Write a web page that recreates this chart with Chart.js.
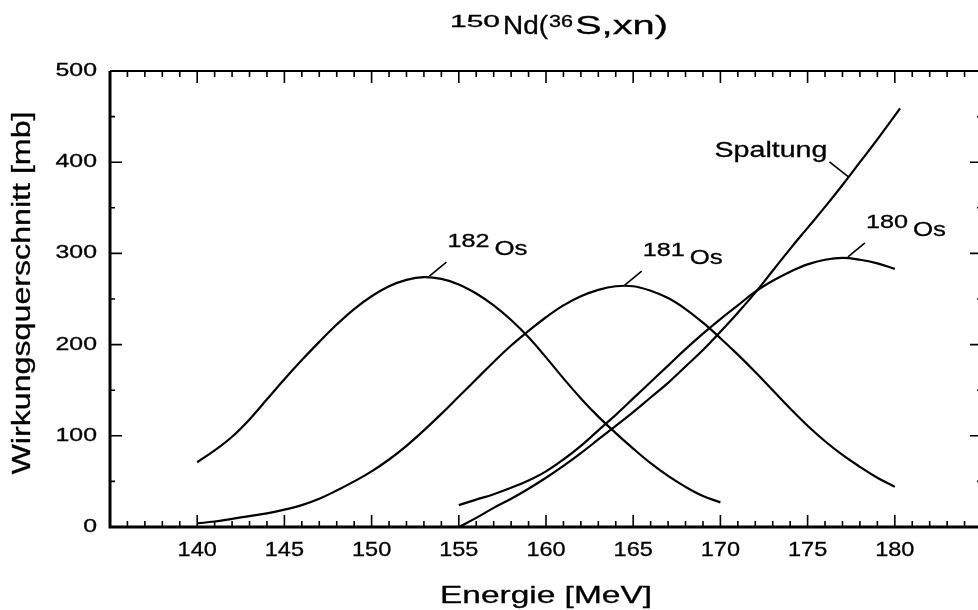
<!DOCTYPE html>
<html>
<head>
<meta charset="utf-8">
<script src="https://cdn.jsdelivr.net/npm/chart.js@4.4.1/dist/chart.umd.min.js"></script>
<style>
  html, body { margin: 0; padding: 0; background: #fff; overflow: hidden; }
  #wrap { width: 990px; height: 610px; }
</style>
</head>
<body>
<div id="wrap"><canvas id="c" width="990" height="610"></canvas></div>
<script>
// tick labels
var xTicks = [140, 145, 150, 155, 160, 165, 170, 175, 180];
var yTicks = [0, 100, 200, 300, 400, 500];

// 182Os
var e182 = [140, 141, 142, 143, 144, 145, 146, 147, 148, 149, 150, 151, 152, 153, 154, 155, 156, 157, 158, 159, 160, 161, 162, 163, 164, 165, 166, 167, 168, 169, 170];
var v182 = [71, 84, 99, 118, 140, 162, 183, 203, 222, 239, 253, 264, 271, 274, 272, 266, 256, 243, 227, 208, 186, 163, 141, 121, 103, 86, 70, 56, 44, 34, 27];

// 181Os
var e181 = [140, 141, 142, 143, 144, 145, 146, 147, 148, 149, 150, 151, 152, 153, 154, 155, 156, 157, 158, 159, 160, 161, 162, 163, 164, 165, 166, 167, 168, 169, 170, 171, 172, 173, 174, 175, 176, 177, 178, 179, 180];
var v181 = [4, 6, 9, 12, 15, 19, 24, 31, 40, 50, 61, 74, 89, 106, 124, 143, 162, 181, 199, 215, 230, 243, 253, 260, 264, 264, 259, 251, 239, 224, 207, 189, 170, 150, 130, 111, 94, 79, 66, 54, 44];

// 180Os
var e180 = [155, 156, 157, 158, 159, 160, 161, 162, 163, 164, 165, 166, 167, 168, 169, 170, 171, 172, 173, 174, 175, 176, 177, 178, 179, 180];
var v180 = [24, 30, 36, 43, 51, 61, 74, 89, 106, 123, 141, 159, 177, 195, 212, 228, 243, 258, 270, 280, 288, 293, 295, 293, 289, 283];

// Spaltung
var eSp = [155, 156, 157, 158, 159, 160, 161, 162, 163, 164, 165, 166, 167, 168, 169, 170, 171, 172, 173, 174, 175, 176, 177, 178, 179, 180, 180.3];
var vSp = [0, 10, 21, 31, 42, 54, 67, 81, 96, 111, 126, 142, 158, 176, 194, 214, 235, 257, 281, 305, 328, 351, 375, 400, 425, 451, 459];

// curve labels, anchored on the curves (data units)
var curveLabels = [
    { mass: "182", name: "Os", e: 153.2, v: 274 },
    { mass: "181", name: "Os", e: 164.4, v: 264 },
    { mass: "180", name: "Os", e: 177.2, v: 295 }
];
var fissionLabel = { text: "Spaltung", e: 177.4, v: 384 };

function pts(xs, ys) {
    var out = [];
    for (var i = 0; i < xs.length; i++) {
        out.push({ x: xs[i], y: ys[i] });
    }
    return out;
}

function curve(label, xs, ys) {
    return {
        label: label,
        data: pts(xs, ys),
        borderColor: "#000",
        borderWidth: 2.2,
        pointRadius: 0,
        fill: false,
        tension: 0.4
    };
}

var FONT = '"Liberation Sans", Arial, sans-serif';

// draw text stretched horizontally (width = target width, or sx = scale)
function txt(ctx, str, x, y, size, opt) {
    opt = opt || {};
    ctx.save();
    ctx.font = size + "px " + FONT;
    var w = ctx.measureText(str).width;
    var s = opt.width ? opt.width / w : (opt.sx || 1);
    ctx.translate(x, y);
    if (opt.rot) ctx.rotate(opt.rot);
    ctx.scale(s, 1);
    ctx.textAlign = opt.align || "left";
    ctx.textBaseline = opt.base || "alphabetic";
    ctx.lineWidth = 0.3;
    ctx.strokeText(str, 0, 0);
    ctx.fillText(str, 0, 0);
    ctx.restore();
}

var decor = {
    id: "decor",
    afterDraw: function(chart) {
        var ctx = chart.ctx;
        var a = chart.chartArea;
        var xs = chart.scales.x;
        var ys = chart.scales.y;

        ctx.save();
        ctx.strokeStyle = "#000";
        ctx.fillStyle = "#000";

        // frame
        ctx.lineWidth = 3;
        ctx.beginPath();
        ctx.moveTo(a.left, a.top);
        ctx.lineTo(a.left, a.bottom);
        ctx.lineTo(a.right, a.bottom);
        ctx.stroke();
        ctx.lineWidth = 2;
        ctx.beginPath();
        ctx.moveTo(a.left, a.top);
        ctx.lineTo(a.right, a.top);
        ctx.lineTo(a.right, a.bottom);
        ctx.stroke();

        // inward ticks
        ctx.lineWidth = 1.6;
        ctx.beginPath();
        for (var e = xs.min + 1; e < xs.max; e++) {
            var px = xs.getPixelForValue(e);
            var len = (e % 5 === 0) ? 12 : 6;
            ctx.moveTo(px, a.bottom);
            ctx.lineTo(px, a.bottom - len);
            ctx.moveTo(px, a.top);
            ctx.lineTo(px, a.top + len);
        }
        for (var v = 50; v < ys.max; v += 50) {
            var py = ys.getPixelForValue(v);
            var l2 = (v % 100 === 0) ? 12 : 5;
            ctx.moveTo(a.left, py);
            ctx.lineTo(a.left + l2, py);
            ctx.moveTo(a.right, py);
            ctx.lineTo(a.right - l2, py);
        }
        ctx.stroke();

        // tick labels
        xTicks.forEach(function(t) {
            txt(ctx, String(t), xs.getPixelForValue(t), a.bottom + 29, 21, { align: "center", sx: 1.12 });
        });
        yTicks.forEach(function(t) {
            txt(ctx, String(t), a.left - 13, ys.getPixelForValue(t), 18, { align: "right", base: "middle", sx: 1.38 });
        });

        // axis titles
        txt(ctx, "Energie [MeV]", 546, 603, 24, { align: "center", width: 212 });
        txt(ctx, "Wirkungsquerschnitt [mb]", 30, 293, 26, { align: "center", width: 363, rot: -Math.PI / 2 });

        // chart title: 150Nd(36S,xn)
        txt(ctx, "150", 450, 27, 17, { width: 50 });
        txt(ctx, "Nd(", 503, 34, 25, { width: 45 });
        txt(ctx, "36", 549, 27, 17, { width: 24 });
        txt(ctx, "S,xn)", 575, 34, 25, { width: 93 });

        // curve labels with leader lines
        ctx.lineWidth = 1.6;
        curveLabels.forEach(function(c) {
            var ax = xs.getPixelForValue(c.e);
            var ay = ys.getPixelForValue(c.v);
            ctx.beginPath();
            ctx.moveTo(ax + 2, ay - 1);
            ctx.lineTo(ax + 19, ay - 15);
            ctx.stroke();
            txt(ctx, c.mass, ax + 20, ay - 30, 18, { width: 42 });
            txt(ctx, c.name, ax + 67, ay - 22, 21, { width: 33 });
        });
        var fx = xs.getPixelForValue(fissionLabel.e);
        var fy = ys.getPixelForValue(fissionLabel.v);
        ctx.beginPath();
        ctx.moveTo(fx - 1, fy);
        ctx.lineTo(fx - 20, fy - 15);
        ctx.stroke();
        txt(ctx, fissionLabel.text, fx - 22, fy - 20, 22, { align: "right", width: 113 });

        ctx.restore();
    }
};

var chart = new Chart(document.getElementById("c"), {
    type: "line",
    data: {
        datasets: [
            curve("182Os", e182, v182),
            curve("181Os", e181, v181),
            curve("180Os", e180, v180),
            curve("Spaltung", eSp, vSp)
        ]
    },
    options: {
        responsive: false,
        animation: false,
        devicePixelRatio: 1,
        layout: { padding: { left: 110, top: 71, right: 8, bottom: 83 } },
        plugins: {
            legend: { display: false },
            tooltip: { enabled: false },
            title: { display: false }
        },
        scales: {
            x: { type: "linear", min: 135, max: 185, display: false },
            y: { type: "linear", min: 0, max: 500, display: false }
        }
    },
    plugins: [decor]
});
</script>
</body>
</html>
